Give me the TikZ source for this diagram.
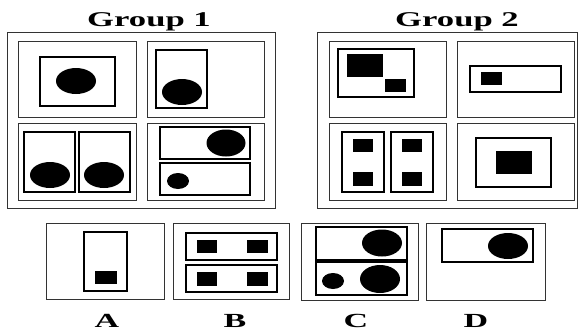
\documentclass[tikz,border=0pt]{standalone}
\usepackage{fontspec}
\setmainfont{Liberation Serif}
\begin{document}
\begin{tikzpicture}[x=1pt,y=-1pt,
  outerbox/.style={draw=black!80,line width=1pt},
  innerbox/.style={draw=black,line width=2.2pt},
  blob/.style={fill=black},
  title/.style={font=\fontsize{21}{21}\selectfont\bfseries,anchor=base,inner sep=0pt},
  letter/.style={font=\fontsize{20}{20}\selectfont\bfseries,anchor=base,inner sep=0pt}]
\useasboundingbox (0,0) rectangle (579,333);
% titles
\node[title] (g1) at (149,26) {\scalebox{1.65}[1]{Group 1}};
\node[title] (g2) at (457,26) {\scalebox{1.65}[1]{Group 2}};
% group frames
\draw[outerbox] (7,32) rectangle (275,208);
\draw[outerbox] (317,32) rectangle (577,208);
% ---------- Group 1 ----------
\draw[outerbox] (18,41) rectangle (136,117);
\draw[innerbox] (40,57) rectangle (115,106);
\fill[blob] (76,81) ellipse [x radius=20pt,y radius=13pt];
\draw[outerbox] (147,41) rectangle (264,117);
\draw[innerbox] (156,50) rectangle (207,108);
\fill[blob] (182,92) ellipse [x radius=20pt,y radius=13pt];
\draw[outerbox] (18,123) rectangle (136,200);
\draw[innerbox] (24,132) rectangle (75,192);
\draw[innerbox] (79,132) rectangle (130,192);
\fill[blob] (50,175) ellipse [x radius=20pt,y radius=13pt];
\fill[blob] (104,175) ellipse [x radius=20pt,y radius=13pt];
\draw[outerbox] (147,123) rectangle (264,200);
\draw[innerbox] (160,127) rectangle (250,159);
\draw[innerbox] (160,163) rectangle (250,195);
\fill[blob] (226,143) ellipse [x radius=19.5pt,y radius=13.5pt];
\fill[blob] (178,181) ellipse [x radius=11pt,y radius=8pt];
% ---------- Group 2 ----------
\draw[outerbox] (329,41) rectangle (446,117);
\draw[innerbox] (338,49) rectangle (414,97);
\fill[blob] (347,54) rectangle (383,77);
\fill[blob] (385,79) rectangle (406,92);
\draw[outerbox] (457,41) rectangle (574,117);
\draw[innerbox] (470,66) rectangle (561,92);
\fill[blob] (481,72) rectangle (502,85);
\draw[outerbox] (329,123) rectangle (446,200);
\draw[innerbox] (342,132) rectangle (384,192);
\draw[innerbox] (391,132) rectangle (433,192);
\fill[blob] (353,139) rectangle (373,152);
\fill[blob] (353,172) rectangle (373,186);
\fill[blob] (402,139) rectangle (422,152);
\fill[blob] (402,172) rectangle (422,186);
\draw[outerbox] (457,123) rectangle (574,200);
\draw[innerbox] (476,138) rectangle (551,187);
\fill[blob] (496,151) rectangle (532,174);
% ---------- Options ----------
% A
\draw[outerbox] (46,223) rectangle (164,299);
\draw[innerbox] (84,232) rectangle (127,291);
\fill[blob] (95,271) rectangle (117,284);
% B
\draw[outerbox] (173,223) rectangle (289,299);
\draw[innerbox] (186,233) rectangle (277,260);
\draw[innerbox] (186,265) rectangle (277,292);
\fill[blob] (197,240) rectangle (217,253);
\fill[blob] (247,240) rectangle (268,253);
\fill[blob] (197,272) rectangle (217,286);
\fill[blob] (247,272) rectangle (268,286);
% C
\draw[outerbox] (301,223) rectangle (418,300);
\draw[innerbox] (316,227) rectangle (407,260);
\draw[innerbox] (316,262) rectangle (407,295);
\fill[blob] (382,243) ellipse [x radius=20pt,y radius=13.5pt];
\fill[blob] (380,279) ellipse [x radius=20pt,y radius=14pt];
\fill[blob] (333,281) ellipse [x radius=11pt,y radius=8pt];
% D
\draw[outerbox] (426,223) rectangle (545,300);
\draw[innerbox] (442,229) rectangle (533,262);
\fill[blob] (508,246) ellipse [x radius=20pt,y radius=13pt];
% letters
\node[letter] (la) at (107,327) {\scalebox{1.7}[1]{A}};
\node[letter] (lb) at (235,327) {\scalebox{1.7}[1]{B}};
\node[letter] (lc) at (356,327) {\scalebox{1.7}[1]{C}};
\node[letter] (ld) at (476,327) {\scalebox{1.7}[1]{D}};
\end{tikzpicture}
\end{document}
